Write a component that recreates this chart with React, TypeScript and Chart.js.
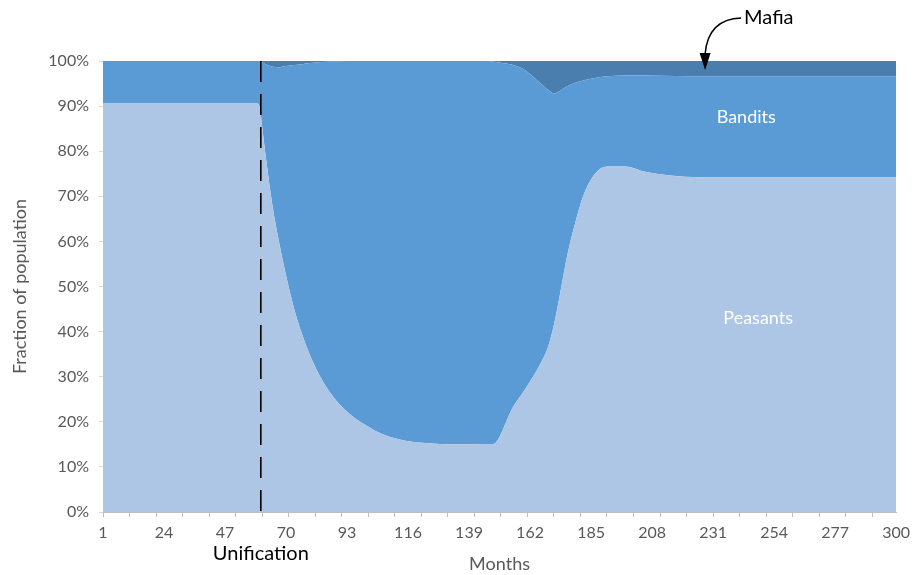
import React, { useEffect, useRef } from 'react';
import { Chart, registerables } from 'chart.js';

Chart.register(...registerables);

// ---- Data (percent of population) ----
const months = [1, 59, 60, 61, 62, 63, 64, 65, 67, 70, 73, 76, 79, 82, 85, 88, 92, 96, 100, 105, 110, 115, 120, 128, 136, 145, 148, 149, 151, 155, 160, 166, 169, 171, 173, 176, 179, 182, 186, 191, 198, 205, 217, 230, 300];
const peasants = [90.6, 90.6, 90.0, 85.5, 80.5, 76.0, 71.5, 67.5, 61.0, 52.5, 45.2, 39.5, 34.8, 31.0, 27.9, 25.4, 22.8, 20.8, 19.3, 17.6, 16.5, 15.8, 15.4, 15.1, 15.0, 15.05, 15.1, 15.3, 17.3, 22.6, 27.1, 33.0, 37.0, 41.5, 47.4, 56.8, 64.0, 70.0, 74.6, 76.6, 76.6, 75.5, 74.5, 74.2, 74.2];
const bandits = [9.4, 9.4, 10.0, 14.2, 18.9, 23.1, 27.4, 31.2, 37.6, 46.4, 53.9, 59.8, 64.75, 68.75, 71.95, 74.5, 77.2, 79.2, 80.7, 82.4, 83.5, 84.2, 84.6, 84.9, 85.0, 84.95, 84.8, 84.5, 82.3, 76.6, 70.9, 62.0, 56.5, 51.3, 45.9, 37.6, 31.2, 25.7, 21.6, 20.0, 20.2, 21.3, 22.2, 22.4, 22.4];
const mafia = [0, 0, 0, 0.3, 0.6, 0.9, 1.1, 1.3, 1.4, 1.1, 0.9, 0.7, 0.45, 0.25, 0.15, 0.1, 0, 0, 0, 0, 0, 0, 0, 0, 0, 0, 0.1, 0.2, 0.4, 0.8, 2.0, 5.0, 6.5, 7.2, 6.7, 5.6, 4.8, 4.3, 3.8, 3.4, 3.2, 3.2, 3.3, 3.4, 3.4];

const xLabelMonths = [1, 24, 47, 70, 93, 116, 139, 162, 185, 208, 231, 254, 277, 300];
const xMarkMonths = [1, 11, 21, 31, 41, 51, 61, 71, 81, 91, 101, 111, 121, 131, 141, 151, 161, 171, 181, 191, 201, 211, 221, 231, 241, 251, 261, 271, 281, 291];
const yTickStep = 10;

const unificationMonth = 60.5;
const seriesNames = ['Peasants', 'Bandits', 'Mafia'];

// label anchors (month, percent)
const banditsLabelAt = { m: 243.5, p: 87.6 };
const peasantsLabelAt = { m: 248, p: 43 };
const mafiaArrowTipAt = { m: 228, p: 98 };

const COLORS = {
  peasants: '#ADC6E6',
  bandits: '#5B9BD5',
  mafia: '#4A7EAF',
  axisText: '#595959',
  axisLine: '#BFBFBF',
  grid: '#D9D9D9',
};

const FONT = 'Lato, "Open Sans", sans-serif';

const annotationPlugin = {
  id: 'customAnnotations',
  afterDatasetsDraw(chart: any) {
    const { ctx, chartArea, scales } = chart;
    const x = scales.x;
    const y = scales.y;
    ctx.save();

    // Unification dashed line
    const ux = x.getPixelForValue(unificationMonth);
    ctx.strokeStyle = '#000000';
    ctx.lineWidth = 1.6;
    ctx.setLineDash([21, 12]);
    ctx.beginPath();
    ctx.moveTo(ux, chartArea.top);
    ctx.lineTo(ux, chartArea.bottom);
    ctx.stroke();
    ctx.setLineDash([]);

    ctx.fillStyle = '#000000';
    ctx.font = `20px ${FONT}`;
    ctx.textAlign = 'center';
    ctx.textBaseline = 'middle';
    ctx.fillText('Unification', ux, chartArea.bottom + 42);

    // Series labels
    ctx.fillStyle = '#FFFFFF';
    ctx.font = `18px ${FONT}`;
    ctx.fillText(seriesNames[1], x.getPixelForValue(banditsLabelAt.m), y.getPixelForValue(banditsLabelAt.p));
    ctx.fillText(seriesNames[0], x.getPixelForValue(peasantsLabelAt.m), y.getPixelForValue(peasantsLabelAt.p));

    // Mafia callout with curved arrow
    const tx = x.getPixelForValue(mafiaArrowTipAt.m);
    const ty = y.getPixelForValue(mafiaArrowTipAt.p);
    const sx = tx + 36;
    const sy = ty - 52;
    ctx.strokeStyle = '#000000';
    ctx.lineWidth = 1.5;
    ctx.beginPath();
    ctx.moveTo(sx, sy);
    ctx.quadraticCurveTo(tx + 3, sy + 1, tx, ty - 16);
    ctx.stroke();
    ctx.fillStyle = '#000000';
    ctx.beginPath();
    ctx.moveTo(tx, ty);
    ctx.lineTo(tx - 5.5, ty - 17);
    ctx.lineTo(tx + 5.5, ty - 17);
    ctx.closePath();
    ctx.fill();

    ctx.font = `20px ${FONT}`;
    ctx.textAlign = 'left';
    ctx.textBaseline = 'middle';
    ctx.fillText(seriesNames[2], sx + 3, sy);

    ctx.restore();
  },
};

export default function App() {
  const canvasRef = useRef<HTMLCanvasElement | null>(null);

  useEffect(() => {
    document.body.style.margin = '0';
    const canvas = canvasRef.current;
    if (!canvas) return;

    const toPoints = (vals: number[]) => months.map((m, i) => ({ x: m, y: vals[i] }));

    const chart = new Chart(canvas, {
      type: 'line',
      data: {
        datasets: [
          {
            label: seriesNames[0],
            data: toPoints(peasants),
            backgroundColor: COLORS.peasants,
            borderWidth: 0,
            pointRadius: 0,
            fill: 'origin',
            cubicInterpolationMode: 'monotone',
          },
          {
            label: seriesNames[1],
            data: toPoints(bandits),
            backgroundColor: COLORS.bandits,
            borderWidth: 0,
            pointRadius: 0,
            fill: '-1',
            cubicInterpolationMode: 'monotone',
          },
          {
            label: seriesNames[2],
            data: toPoints(mafia),
            backgroundColor: COLORS.mafia,
            borderWidth: 0,
            pointRadius: 0,
            fill: '-1',
            cubicInterpolationMode: 'monotone',
          },
        ],
      },
      options: {
        responsive: false,
        animation: false,
        events: [],
        layout: { padding: { left: 0, top: 61, right: 18.5, bottom: 0 } },
        plugins: {
          legend: { display: false },
          tooltip: { enabled: false },
          title: { display: false },
        },
        scales: {
          x: {
            type: 'linear',
            min: 1,
            max: 300,
            afterBuildTicks: (scale: any) => {
              const vals = Array.from(new Set([...xMarkMonths, ...xLabelMonths])).sort((a, b) => a - b);
              scale.ticks = vals.map((v) => ({ value: v }));
            },
            afterFit: (scale: any) => {
              scale.height = 63;
            },
            ticks: {
              autoSkip: false,
              maxRotation: 0,
              padding: 6,
              color: COLORS.axisText,
              font: { family: FONT, size: 16 },
              callback: (value: any) => (xLabelMonths.includes(Number(value)) ? String(value) : ''),
            },
            grid: {
              drawOnChartArea: false,
              drawTicks: true,
              tickLength: 5,
              color: (ctx: any) => (ctx.tick && xMarkMonths.includes(ctx.tick.value) ? COLORS.axisLine : 'rgba(0,0,0,0)'),
              tickColor: (ctx: any) => (ctx.tick && xMarkMonths.includes(ctx.tick.value) ? COLORS.axisLine : 'rgba(0,0,0,0)'),
            },
            border: { display: true, color: COLORS.axisLine, width: 1 },
            title: {
              display: true,
              text: 'Months',
              color: COLORS.axisText,
              font: { family: FONT, size: 18 },
              padding: { top: 0, bottom: 0 },
            },
          },
          y: {
            stacked: true,
            min: 0,
            max: 100,
            afterFit: (scale: any) => {
              scale.width = 103;
            },
            ticks: {
              stepSize: yTickStep,
              padding: 10,
              color: COLORS.axisText,
              font: { family: FONT, size: 16 },
              callback: (value: any) => `${value}%`,
            },
            grid: {
              color: COLORS.grid,
              drawTicks: true,
              tickLength: 4,
              tickColor: COLORS.grid,
            },
            border: { display: false },
            title: {
              display: true,
              text: 'Fraction of population',
              color: COLORS.axisText,
              font: { family: FONT, size: 18 },
              padding: { top: 9, bottom: 0 },
            },
          },
        },
      },
      plugins: [annotationPlugin],
    } as any);

    return () => {
      chart.destroy();
    };
  }, []);

  return (
    <div style={{ width: 916, height: 575 }}>
      <canvas ref={canvasRef} width={916} height={575} style={{ display: 'block' }} />
    </div>
  );
}
